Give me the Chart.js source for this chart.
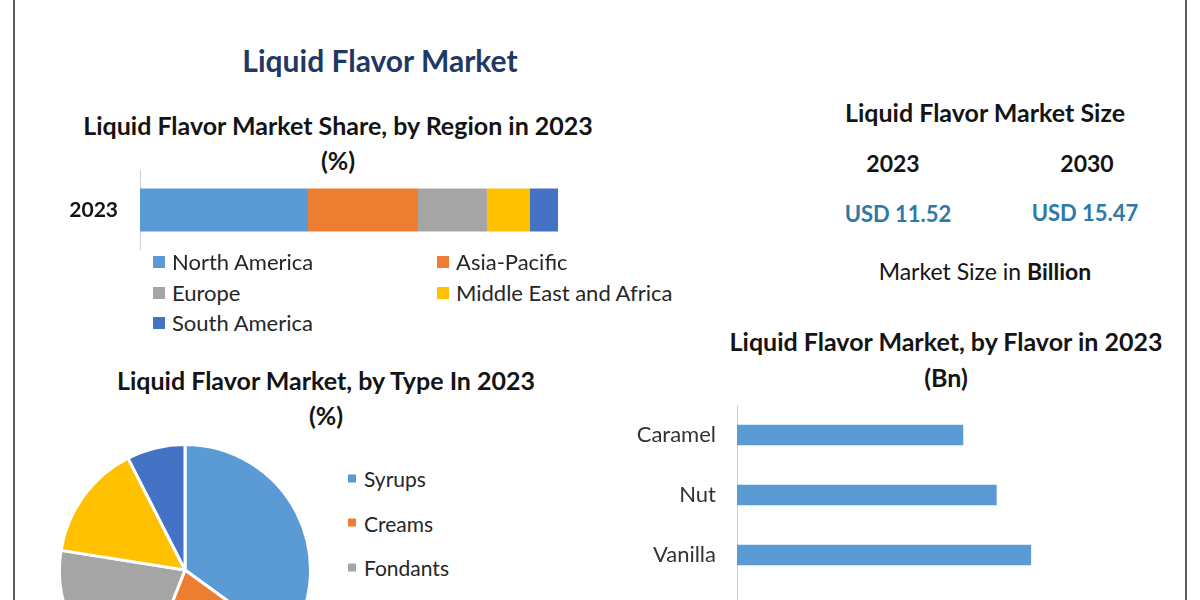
<!DOCTYPE html>
<html>
<head>
<meta charset="utf-8">
<script src="https://cdn.jsdelivr.net/npm/chart.js"></script>
<style>
  html, body { margin: 0; padding: 0; }
  body { width: 1200px; height: 600px; overflow: hidden; position: relative; background: #ffffff; font-family: Lato, 'Open Sans', sans-serif; color: #141414; }
  .frame { position: absolute; top: 0; bottom: 0; width: 2px; background: #5a5f60; }
  .txt { position: absolute; transform: translate(-50%, -50%); white-space: nowrap; line-height: 1; }
  .b { font-weight: 700; }
  .leg { position: absolute; display: flex; align-items: center; white-space: nowrap; line-height: 1; transform: translateY(-50%); color: #262626; }
  canvas { position: absolute; }
</style>
</head>
<body>
<div class="frame" style="left:13px"></div>
<div class="frame" style="left:1185px"></div>

<div class="txt b" style="left:380px; top:60px; font-size:30px; color:#1f3864">Liquid Flavor Market</div>

<div class="txt b" style="left:338px; top:125px; font-size:25px">Liquid Flavor Market Share, by Region in 2023</div>
<div class="txt b" style="left:338px; top:160px; font-size:25px">(%)</div>

<div class="txt b" style="left:985px; top:112px; font-size:25px">Liquid Flavor Market Size</div>
<div class="txt b" style="left:893px; top:163px; font-size:23px">2023</div>
<div class="txt b" style="left:1087px; top:163px; font-size:23px">2030</div>
<div class="txt b" style="left:898px; top:214px; font-size:22px; color:#2e79a6">USD 11.52</div>
<div class="txt b" style="left:1085px; top:213px; font-size:22px; color:#2e79a6">USD 15.47</div>
<div class="txt" style="left:985px; top:271px; font-size:23px">Market Size in <span class="b">Billion</span></div>

<div class="txt b" style="left:326px; top:380px; font-size:25px">Liquid Flavor Market, by Type In 2023</div>
<div class="txt b" style="left:326px; top:415px; font-size:25px">(%)</div>

<div class="txt b" style="left:946px; top:341px; font-size:25px">Liquid Flavor Market, by Flavor in 2023</div>
<div class="txt b" style="left:946px; top:377px; font-size:25px">(Bn)</div>

<canvas id="regionChart" width="558" height="80" style="left:0; top:170px"></canvas>
<canvas id="typeChart" width="254" height="254" style="left:58px; top:443px"></canvas>
<canvas id="flavorChart" width="560" height="240" style="left:600px; top:405px"></canvas>

<div id="regionLegend"></div>
<div id="typeLegend"></div>

<script>
// region share, 2023 (%)
const regionYears = ['2023'];
const regionNames = ['North America', 'Asia-Pacific', 'Europe', 'Middle East and Africa', 'South America'];
const regionShares = [40.2, 26.3, 16.5, 10.3, 6.7];
const regionColors = ['#5b9bd5', '#ed7d31', '#a5a5a5', '#ffc000', '#4472c4'];

// type share, 2023 (%)
const typeNames = ['Syrups', 'Creams', 'Fondants', 'Emulsions', 'Others'];
const typeShares = [35, 21, 21.5, 15, 7.5];
const typeColors = ['#5b9bd5', '#ed7d31', '#a5a5a5', '#ffc000', '#4472c4'];

// flavor, 2023 (Bn) - last row is cut off in the source
const flavorNames = ['Caramel', 'Nut', 'Vanilla', 'Chocolate'];
const flavorValues = [2.30, 2.64, 2.99, null];

Chart.defaults.font.family = "Lato, 'Open Sans', sans-serif";
Chart.defaults.animation = false;

// category axes: fixed width, no label overhang padding
const fixAxis = (width) => (axis) => {
  axis.width = width;
  axis.paddingTop = 0;
  axis.paddingBottom = 0;
};

new Chart(document.getElementById('regionChart'), {
  type: 'bar',
  data: {
    labels: regionYears,
    datasets: regionNames.map((name, i) => ({
      label: name,
      data: [regionShares[i]],
      backgroundColor: regionColors[i],
      borderWidth: 0,
      categoryPercentage: 1,
      barPercentage: 0.54
    }))
  },
  options: {
    indexAxis: 'y',
    responsive: false,
    layout: { padding: 0 },
    plugins: { legend: { display: false }, tooltip: { enabled: false } },
    scales: {
      x: { stacked: true, min: 0, max: 100, display: false },
      y: {
        stacked: true,
        afterFit: fixAxis(140),
        grid: { display: false, drawTicks: false },
        border: { display: true, color: '#d0d0d0', width: 1 },
        ticks: { padding: 22, color: '#141414', font: { size: 21, weight: 'bold' } }
      }
    }
  }
});

new Chart(document.getElementById('typeChart'), {
  type: 'pie',
  data: {
    labels: typeNames,
    datasets: [{
      data: typeShares,
      backgroundColor: typeColors,
      borderColor: '#ffffff',
      borderWidth: 3
    }]
  },
  options: {
    responsive: false,
    layout: { padding: 0 },
    plugins: { legend: { display: false }, tooltip: { enabled: false } }
  }
});

new Chart(document.getElementById('flavorChart'), {
  type: 'bar',
  data: {
    labels: flavorNames,
    datasets: [{
      data: flavorValues,
      backgroundColor: '#5b9bd5',
      borderWidth: 0,
      categoryPercentage: 1,
      barPercentage: 0.34
    }]
  },
  options: {
    indexAxis: 'y',
    responsive: false,
    layout: { padding: 0 },
    plugins: { legend: { display: false }, tooltip: { enabled: false } },
    scales: {
      x: { min: 0, max: 4.3, display: false },
      y: {
        afterFit: fixAxis(137),
        grid: { display: false, drawTicks: false },
        border: { display: true, color: '#d0d0d0', width: 1 },
        ticks: { padding: 21, color: '#333333', font: { size: 22 } }
      }
    }
  }
});

// HTML legends laid out like the original two-column / stacked lists
const regionPos = [[153, 262], [437, 262], [153, 293], [437, 293], [153, 323]];
const regionLegend = document.getElementById('regionLegend');
regionNames.forEach((name, i) => {
  const el = document.createElement('div');
  el.className = 'leg';
  el.style.left = regionPos[i][0] + 'px';
  el.style.top = regionPos[i][1] + 'px';
  el.style.fontSize = '22px';
  el.innerHTML = `<span style="display:inline-block;width:12px;height:12px;background:${regionColors[i]};margin-right:7px"></span>${name}`;
  regionLegend.appendChild(el);
});

const typeLegend = document.getElementById('typeLegend');
typeNames.forEach((name, i) => {
  const el = document.createElement('div');
  el.className = 'leg';
  el.style.left = '348px';
  el.style.top = (478 + i * 44.5) + 'px';
  el.style.fontSize = '21px';
  el.innerHTML = `<span style="display:inline-block;width:8px;height:8px;background:${typeColors[i]};margin-right:8px"></span>${name}`;
  typeLegend.appendChild(el);
});
</script>
</body>
</html>
